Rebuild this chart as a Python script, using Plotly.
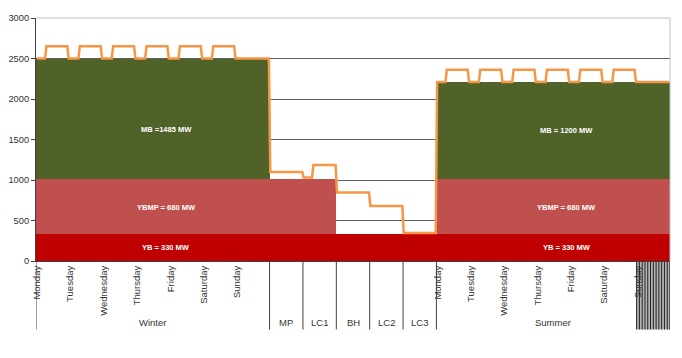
import plotly.graph_objects as go

# ---------------- data ----------------
# 19 day-units along the x axis
unit_labels = ["Monday", "Tuesday", "Wednesday", "Thursday", "Friday", "Saturday", "Sunday",
               "MP", "LC1", "BH", "LC2", "LC3",
               "Monday", "Tuesday", "Wednesday", "Thursday", "Friday", "Saturday", "Sunday"]
groups = ["Winter", "MP", "LC1", "BH", "LC2", "LC3", "Summer"]
group_sizes = [7, 1, 1, 1, 1, 1, 7]
day_label_units = [0, 1, 2, 3, 4, 5, 6, 12, 13, 14, 15, 16, 17, 18]

# stacked baseload blocks (MW) per unit
yb_mw = [330, 330, 330, 330, 330, 330, 330, 330, 330, 330, 330, 330,
         330, 330, 330, 330, 330, 330, 330]
ybmp_mw = [680, 680, 680, 680, 680, 680, 680, 680, 680, 0, 0, 0,
           680, 680, 680, 680, 680, 680, 680]
mb_mw = [1485, 1485, 1485, 1485, 1485, 1485, 1485, 0, 0, 0, 0, 0,
         1200, 1200, 1200, 1200, 1200, 1200, 1200]

# hourly demand profiles (MW), 24 values each
profiles = {
    "winter_week": [2500, 2500, 2500, 2500, 2500, 2500, 2500, 2650, 2650, 2650, 2650, 2650,
                    2650, 2650, 2650, 2650, 2650, 2650, 2650, 2650, 2650, 2650, 2650, 2500],
    "winter_sun": [2500, 2500, 2500, 2500, 2500, 2500, 2500, 2500, 2500, 2500, 2500, 2500,
                   2500, 2500, 2500, 2500, 2500, 2500, 2500, 2500, 2500, 2500, 2500, 2500],
    "MP": [1100, 1100, 1100, 1100, 1100, 1100, 1100, 1100, 1100, 1100, 1100, 1100,
           1100, 1100, 1100, 1100, 1100, 1100, 1100, 1100, 1100, 1100, 1100, 1100],
    "LC1": [1030, 1030, 1030, 1030, 1030, 1030, 1030, 1185, 1185, 1185, 1185, 1185,
            1185, 1185, 1185, 1185, 1185, 1185, 1185, 1185, 1185, 1185, 1185, 1185],
    "BH": [845, 845, 845, 845, 845, 845, 845, 845, 845, 845, 845, 845,
           845, 845, 845, 845, 845, 845, 845, 845, 845, 845, 845, 845],
    "LC2": [680, 680, 680, 680, 680, 680, 680, 680, 680, 680, 680, 680,
            680, 680, 680, 680, 680, 680, 680, 680, 680, 680, 680, 680],
    "LC3": [345, 345, 345, 345, 345, 345, 345, 345, 345, 345, 345, 345,
            345, 345, 345, 345, 345, 345, 345, 345, 345, 345, 345, 345],
    "summer_week": [2210, 2210, 2210, 2210, 2210, 2210, 2210, 2360, 2360, 2360, 2360, 2360,
                    2360, 2360, 2360, 2360, 2360, 2360, 2360, 2360, 2360, 2360, 2360, 2210],
    "summer_sun": [2210, 2210, 2210, 2210, 2210, 2210, 2210, 2210, 2210, 2210, 2210, 2210,
                   2210, 2210, 2210, 2210, 2210, 2210, 2210, 2210, 2210, 2210, 2210, 2210],
}
unit_profile = ["winter_week"] * 6 + ["winter_sun", "MP", "LC1", "BH", "LC2", "LC3"] + \
               ["summer_week"] * 6 + ["summer_sun"]

# block labels
block_texts = ["MB =1485 MW", "YBMP = 680 MW", "YB = 330 MW",
               "MB = 1200 MW", "YBMP = 680 MW", "YB = 330 MW"]

# ---------------- styling ----------------
C_YB = "#C00000"
C_YBMP = "#C0504D"
C_MB = "#4F6228"
C_LINE = "#F79646"
FONT = "Liberation Sans, Arial, sans-serif"
TXT = "#333333"

n_units = len(unit_labels)
unit_x = [i + 0.5 for i in range(n_units)]

fig = go.Figure()
for name, vals, col in [("YB", yb_mw, C_YB), ("YBMP", ybmp_mw, C_YBMP), ("MB", mb_mw, C_MB)]:
    fig.add_trace(go.Bar(x=unit_x, y=vals, width=1, name=name,
                         marker=dict(color=col, line=dict(width=0)),
                         hoverinfo="skip"))

hour_x, hour_y = [], []
for u, p in enumerate(unit_profile):
    for h, v in enumerate(profiles[p]):
        hour_x.append(u + (h + 0.5) / 24)
        hour_y.append(v)
fig.add_trace(go.Scatter(x=hour_x, y=hour_y, mode="lines",
                         line=dict(color=C_LINE, width=2.5), name="Demand"))

starts = [0]
for s in group_sizes[:-1]:
    starts.append(starts[-1] + s)
lab_x = [3.9, 3.9, 3.9, 15.9, 15.9, 15.9]
lab_y = [1620, 660, 165, 1610, 660, 165]
annotations = []
for t, x, y in zip(block_texts, lab_x, lab_y):
    annotations.append(dict(x=x, y=y, xref="x", yref="y", text=t, showarrow=False,
                            font=dict(family=FONT, size=7.5, color="white", weight="bold")))

# group labels under the axis
for g, s, n in zip(groups, starts, group_sizes):
    annotations.append(dict(x=s + n / 2, y=-0.253, xref="x", yref="paper", text=g,
                            showarrow=False, yanchor="middle",
                            font=dict(family=FONT, size=9.5, color=TXT)))

shapes = []
div_bottom = -0.282
bounds = starts + [n_units]
# hatched block under last summer day
shapes.append(dict(type="rect", xref="x", yref="paper", x0=n_units - 1, x1=n_units,
                   y0=0, y1=div_bottom, fillcolor="#b4b4b4", line=dict(width=0),
                   layer="below"))
for h in range(0, 25, 2):
    shapes.append(dict(type="line", xref="x", yref="paper",
                       x0=n_units - 1 + h / 24, x1=n_units - 1 + h / 24,
                       y0=0, y1=div_bottom, line=dict(color="#222222", width=1),
                       layer="below"))
for b in bounds:
    shapes.append(dict(type="line", xref="x", yref="paper", x0=b, x1=b,
                       y0=0, y1=div_bottom, line=dict(color="#404040", width=1),
                       layer="below"))
# light plot border on top and right
shapes.append(dict(type="line", xref="paper", yref="paper", x0=0, x1=1, y0=1, y1=1,
                   line=dict(color="#c0c0c0", width=1), layer="above"))
shapes.append(dict(type="line", xref="paper", yref="paper", x0=1, x1=1, y0=0, y1=1,
                   line=dict(color="#c0c0c0", width=1), layer="above"))

fig.update_layout(
    width=682, height=358,
    margin=dict(l=36, r=12, t=18, b=97, autoexpand=False),
    paper_bgcolor="white", plot_bgcolor="white",
    barmode="stack", bargap=0, showlegend=False,
    font=dict(family=FONT, color=TXT, size=9.3),
    annotations=annotations, shapes=shapes,
    xaxis=dict(range=[0, n_units], showgrid=False, zeroline=False, automargin=False,
               showline=True, linecolor="#404040", linewidth=1,
               tickmode="array",
               tickvals=[u + 0.03 for u in day_label_units],
               ticktext=[unit_labels[u] for u in day_label_units],
               tickangle=-90, ticks="", tickfont=dict(family=FONT, size=9.5, color=TXT)),
    yaxis=dict(range=[0, 3000], tickmode="array", automargin=False,
               tickvals=[0, 500, 1000, 1500, 2000, 2500, 3000],
               showgrid=True, gridcolor="#606060", gridwidth=1, zeroline=False,
               showline=True, linecolor="#404040", linewidth=1,
               ticks="outside", ticklen=4, tickcolor="#404040",
               tickfont=dict(family=FONT, size=9.3, color=TXT)),
)

fig.write_html("out.html", config={"displayModeBar": False},
               post_script="document.body.style.margin='0';document.body.style.overflow='hidden';")
